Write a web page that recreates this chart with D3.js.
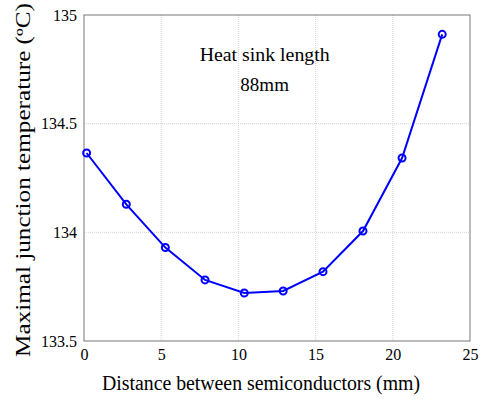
<!DOCTYPE html>
<html>
<head>
<meta charset="utf-8">
<style>
body { margin: 0; background: #fff; }
.grid line { stroke: #d4d4d4; stroke-dasharray: 1,1; }
</style>
</head>
<body>
<svg width="481" height="400"></svg>
<script src="https://cdn.jsdelivr.net/npm/d3@7"></script>
<script>
var distance = [0.17, 2.74, 5.27, 7.84, 10.38, 12.9, 15.48, 18.07, 20.6, 23.2];
var temperature = [134.365, 134.129, 133.930, 133.781, 133.721, 133.730, 133.819, 134.006, 134.342, 134.911];
var xTicks = [0, 5, 10, 15, 20, 25];
var yTicks = [133.5, 134, 134.5, 135];
var yTickLabels = ["133.5", "134", "134.5", "135"];
var serif = "'Liberation Serif'";

var svg = d3.select("svg"),
    margin = {top: 15, right: 11, bottom: 59, left: 84},
    width = +svg.attr("width") - margin.left - margin.right,
    height = +svg.attr("height") - margin.top - margin.bottom,
    g = svg.append("g").attr("transform", "translate(" + margin.left + "," + margin.top + ")");

var x = d3.scaleLinear().domain([0, 25]).range([0, width]);
var y = d3.scaleLinear().domain([133.5, 135]).range([height, 0]);

// grid
var grid = g.append("g").attr("class", "grid");
grid.selectAll(".gx").data(xTicks.slice(1, -1)).enter().append("line")
    .attr("x1", function(d) { return x(d); }).attr("x2", function(d) { return x(d); })
    .attr("y1", 0).attr("y2", height);
grid.selectAll(".gy").data(yTicks.slice(1, -1)).enter().append("line")
    .attr("y1", function(d) { return y(d); }).attr("y2", function(d) { return y(d); })
    .attr("x1", 0).attr("x2", width);

// frame
g.append("rect").attr("width", width).attr("height", height)
    .attr("fill", "none").attr("stroke", "#777").attr("stroke-width", 1);

var xAxis = g.append("g")
    .attr("transform", "translate(0," + height + ")")
    .call(d3.axisBottom(x).tickValues(xTicks).tickSize(0).tickPadding(8));
var yAxis = g.append("g")
    .call(d3.axisLeft(y).tickValues(yTicks).tickSize(0).tickPadding(7)
      .tickFormat(function(d, i) { return yTickLabels[i]; }));
[xAxis, yAxis].forEach(function(a) {
  a.attr("font-family", serif).attr("font-size", 16);
  a.select(".domain").remove();
  a.selectAll("text").style("font-family", serif).style("font-size", "16px").attr("fill", "#000");
});

var line = d3.line()
    .x(function(d, i) { return x(distance[i]); })
    .y(function(d) { return y(d); });
g.append("path").datum(temperature)
    .attr("fill", "none").attr("stroke", "#0000ff").attr("stroke-width", 2)
    .attr("d", line);
g.selectAll(".pt").data(temperature).enter().append("circle")
    .attr("cx", function(d, i) { return x(distance[i]); })
    .attr("cy", function(d) { return y(d); })
    .attr("r", 3.5).attr("fill", "none").attr("stroke", "#0000ff").attr("stroke-width", 2);

// annotation
g.append("text").attr("x", x(11.7)).attr("y", 46).attr("text-anchor", "middle")
    .style("font-family", serif).style("font-size", "19px")
    .attr("textLength", 130).attr("lengthAdjust", "spacingAndGlyphs")
    .text("Heat sink length");
g.append("text").attr("x", x(11.7)).attr("y", 76).attr("text-anchor", "middle")
    .style("font-family", serif).style("font-size", "19px").text("88mm");

// axis titles
svg.append("text").attr("x", 261).attr("y", 390).attr("text-anchor", "middle")
    .style("font-family", serif).style("font-size", "20px")
    .attr("textLength", 318).attr("lengthAdjust", "spacingAndGlyphs")
    .text("Distance between semiconductors (mm)");
svg.append("text").attr("transform", "translate(30,180) rotate(-90)").attr("text-anchor", "middle")
    .style("font-family", serif).style("font-size", "20px")
    .attr("textLength", 354).attr("lengthAdjust", "spacingAndGlyphs")
    .text("Maximal junction temperature (ºC)");
</script>
</body>
</html>
